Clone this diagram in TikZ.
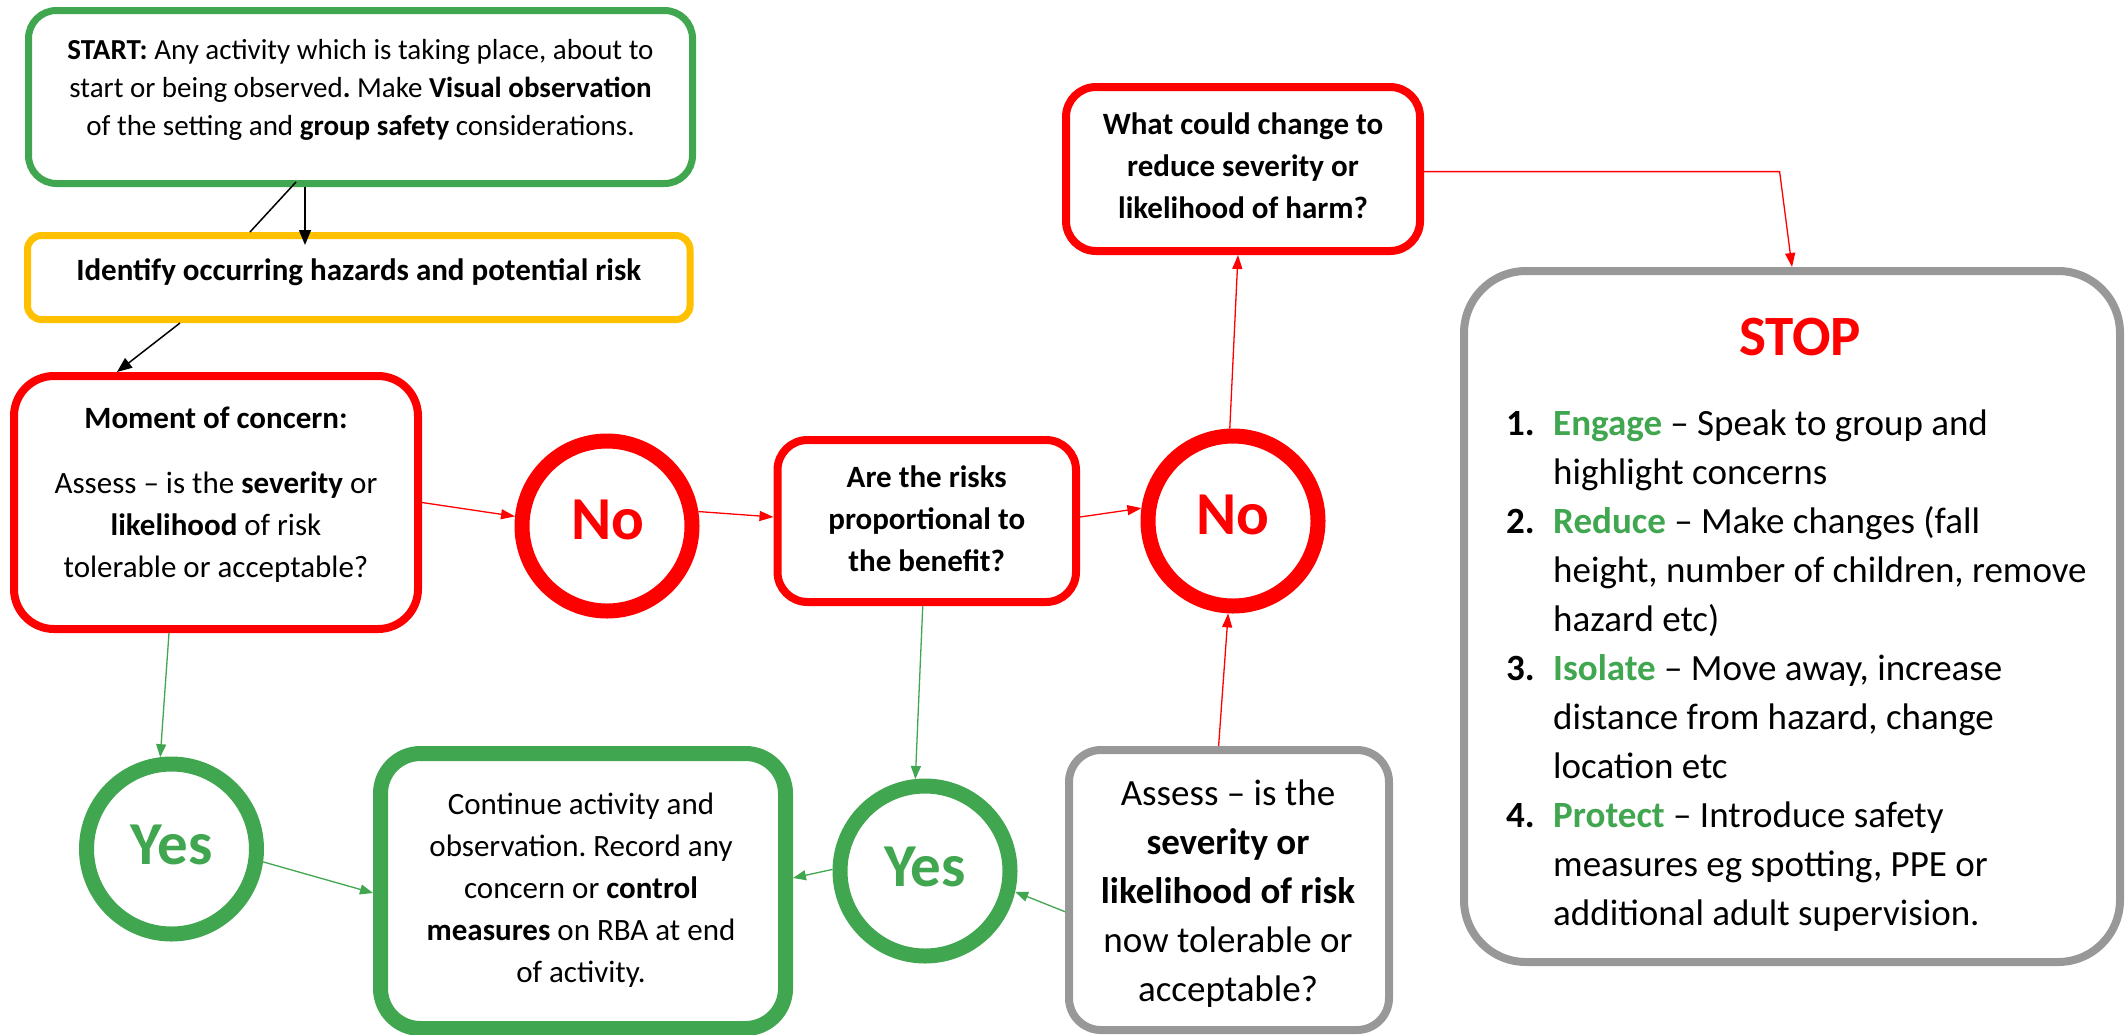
\documentclass[tikz,border=0pt]{standalone}
\usepackage{fontspec}
\setmainfont{Carlito}
\usetikzlibrary{arrows.meta}
\definecolor{G}{HTML}{41A650}
\definecolor{R}{HTML}{FF0000}
\definecolor{Y}{HTML}{FFC000}
\definecolor{Gr}{HTML}{989898}
\frenchspacing
\newcommand\fsStart{\fontsize{29}{38}\selectfont}
\newcommand\fsBox{\fontsize{31}{42}\selectfont}
\newcommand\fsBig{\fontsize{37}{49}\selectfont}
\newcommand\fsCirc{\fontsize{61}{70}\selectfont\bfseries}
\newcommand\fsTitle{\fontsize{57}{66}\selectfont\bfseries}
\newcommand\stopitem[2]{\makebox[47pt][l]{\textbf{#1}}\textcolor{G}{\textbf{#2}}}
\newcommand\stopind{\hspace*{47pt}}
\begin{document}
\begin{tikzpicture}[x=1pt,y=-1pt,
  boxbase/.style={draw, fill=white, inner sep=0pt},
  gbox/.style={boxbase, draw=G, line width=7pt, rounded corners=28pt},
  ybox/.style={boxbase, draw=Y, line width=7pt, rounded corners=14pt},
  rbox/.style={boxbase, draw=R, line width=8pt, rounded corners=34pt},
  graybox/.style={boxbase, draw=Gr, line width=8pt, rounded corners=32pt},
  ring/.style={circle, draw, fill=white, line width=15pt, minimum size=170pt, inner sep=0pt},
  txt/.style={inner sep=0pt, align=center},
  blk/.style={draw=black, line width=1.5pt, -{Triangle[length=15pt,width=12pt]}},
  rarr/.style={draw=R, line width=1.3pt, -{Triangle[length=14pt,width=10pt]}},
  garr/.style={draw=G, line width=1.3pt, -{Triangle[length=13pt,width=10pt]}}
]
\useasboundingbox (0,0) rectangle (2127,1034);
\fill[white] (0,0) rectangle (2127,1034);

% boxes
\node[gbox, minimum width=664pt, minimum height=173pt] (start) at (360.5,97) {};
\node[txt, font=\fsStart] (startt) at (360.5,89.5) {\textbf{START:} Any activity which is taking place, about to\\ start or being observed\textbf{.} Make \textbf{Visual observation}\\ of the setting and \textbf{group safety} considerations.};

\node[ybox, minimum width=662.5pt, minimum height=84pt] (ident) at (358.75,277.5) {};
\node[txt, font=\fsBox\bfseries] (identt) at (358.75,272.5) {Identify occurring hazards and potential risk};

\node[rbox, minimum width=404pt, minimum height=253pt, rounded corners=40pt] (moment) at (216,502.5) {};
\node[txt, font=\fsBox] (momentt) at (216,495) {\textbf{Moment of concern:}\\[23pt] Assess – is the \textbf{severity} or\\ \textbf{likelihood} of risk\\ tolerable or acceptable?};

\node[rbox, minimum width=298.5pt, minimum height=162pt, rounded corners=30pt] (are) at (926.75,521) {};
\node[txt, font=\fsBox\bfseries] (aret) at (926.75,519) {Are the risks\\ proportional to\\ the benefit?};

\node[rbox, minimum width=354pt, minimum height=164pt, rounded corners=30pt] (what) at (1243,169) {};
\node[txt, font=\fsBox\bfseries] (whatt) at (1243,166) {What could change to\\ reduce severity or\\ likelihood of harm?};

\node[graybox, minimum width=656pt, minimum height=691pt, rounded corners=62pt] (stop) at (1792,616.5) {};
\node[txt, font=\fsTitle, text=R] (stopt) at (1800,337) {STOP};
\node[inner sep=0pt, align=left, anchor=north west, font=\fsBig] (stoplist) at (1506,410) {%
\stopitem{1.}{Engage} – Speak to group and\\
\stopind highlight concerns\\
\stopitem{2.}{Reduce} – Make changes (fall\\
\stopind height, number of children, remove\\
\stopind hazard etc)\\
\stopitem{3.}{Isolate} – Move away, increase\\
\stopind distance from hazard, change\\
\stopind location etc\\
\stopitem{4.}{Protect} – Introduce safety\\
\stopind measures eg spotting, PPE or\\
\stopind additional adult supervision.};

\node[boxbase, draw=G, line width=15pt, rounded corners=40pt, minimum width=405pt, minimum height=275pt] (cont) at (583,891) {};
\node[txt, font=\fsBox] (contt) at (581,890) {Continue activity and\\ observation. Record any\\ concern or \textbf{control}\\ \textbf{measures} on RBA at end\\ of activity.};

\node[graybox, minimum width=320pt, minimum height=280pt] (assess) at (1229,890) {};
\node[txt, font=\fsBig] (assesst) at (1228,894) {Assess – is the\\ \textbf{severity or}\\ \textbf{likelihood of risk}\\ now tolerable or\\ acceptable?};

% circles
\node[ring, draw=R] (no1) at (607,526) {};
\node[txt, font=\fsCirc, text=R] (no1t) at (608,520) {No};
\node[ring, draw=R] (no2) at (1233,521) {};
\node[txt, font=\fsCirc, text=R] (no2t) at (1233,515) {No};
\node[ring, draw=G] (yes1) at (171.5,849) {};
\node[txt, font=\fsCirc, text=G] (yes1t) at (171.5,845) {Yes};
\node[ring, draw=G] (yes2) at (925,871) {};
\node[txt, font=\fsCirc, text=G] (yes2t) at (925,867) {Yes};

% connectors
\draw[black, line width=1.5pt] ([xshift=-64.5pt,yshift=5pt]start.south) -- ([xshift=-108.75pt]ident.north);
\draw[blk] ([xshift=-55.5pt]start.south) -- ([xshift=-53.75pt,yshift=-13pt]ident.north);
\draw[blk] ([xshift=-178.75pt]ident.south) -- ([xshift=-99pt]moment.north);
\draw[rarr] (moment.east) -- (no1.174);
\draw[rarr] (no1.9) -- ([yshift=4pt]are.west);
\draw[rarr] ([yshift=4pt]are.east) -- (no2.172);
\draw[rarr] (no2.92) -- ([xshift=-5pt]what.south);
\coordinate (bend) at (1779.6,171.6);
\draw[rarr] ([yshift=-2.6pt]what.east) -- (bend) -- (stop.north);
\draw[garr] ([xshift=-47pt]moment.south) -- (yes1.97);
\draw[garr] (yes1.-8) -- ([yshift=-2pt]cont.west);
\draw[garr] ([xshift=-4pt]are.south) -- (yes2.96);
\draw[garr] (yes2.179) -- ([yshift=13pt]cont.east);
\draw[garr] ([yshift=-21.7pt]assess.west) -- (yes2.-13.5);
\draw[rarr] ([xshift=-10.4pt]assess.north) -- (no2.267);
\end{tikzpicture}
\end{document}
